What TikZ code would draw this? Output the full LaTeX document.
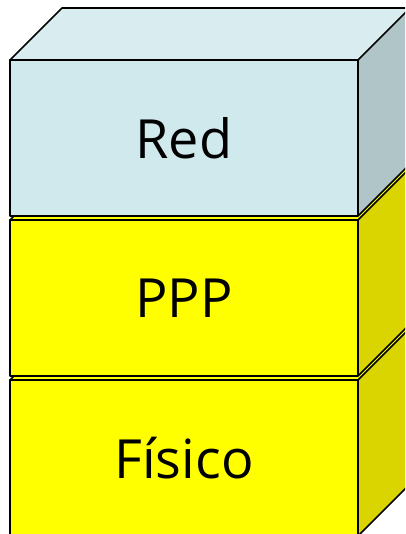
\documentclass[tikz,border=0pt]{standalone}
\usepackage{fontspec}
\setmainfont{Open Sans}

\definecolor{redfront}{RGB}{208,233,236}
\definecolor{redtop}{RGB}{217,236,240}
\definecolor{redside}{RGB}{176,197,199}
\definecolor{yelfront}{RGB}{255,255,0}
\definecolor{yelside}{RGB}{218,212,0}

% one layer of the stack: bottom y, front, top and side colours, name, label
\newcommand{\layerbox}[6]{
  \fill [#3] (10,#1) rectangle (358,#1+156);
  \fill [#4] (10,#1+156) -- (62,#1+208) -- (410,#1+208) -- (358,#1+156) -- cycle;
  \fill [#5] (358,#1) -- (410,#1+52) -- (410,#1+208) -- (358,#1+156) -- cycle;
  \draw [edge] (10,#1) rectangle (358,#1+156);
  \draw [edge] (10,#1+156) -- (62,#1+208) -- (410,#1+208);
  \draw [edge] (358,#1+156) -- (410,#1+208);
  \draw [edge] (358,#1) -- (410,#1+52);
  \node [lbl] (#2) at (184,#1+78) {#6};
}

\begin{document}
\begin{tikzpicture}[
  x=1pt, y=1pt,
  edge/.style={line width=1.6pt, line join=round},
  lbl/.style={font=\fontsize{54}{62}\selectfont},
]
\useasboundingbox (0,0) rectangle (405,534);
\clip (0,0) rectangle (405,534);

\layerbox{-2}{fisico}{yelfront}{yelfront}{yelside}{Físico}
\layerbox{158}{ppp}{yelfront}{yelfront}{yelside}{PPP}
\layerbox{318}{red}{redfront}{redtop}{redside}{Red}

\end{tikzpicture}
\end{document}
